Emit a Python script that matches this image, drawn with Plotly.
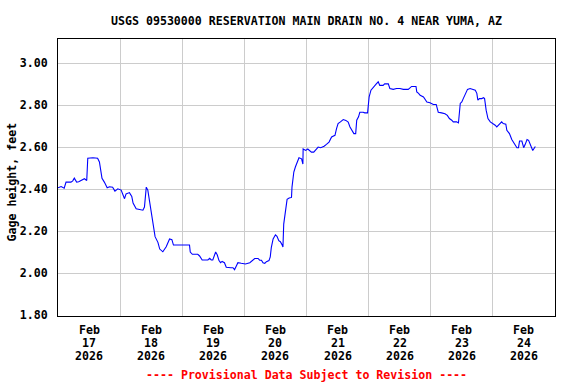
import pandas as pd
import plotly.graph_objects as go

# ---- data (hours after 2026-02-17 00:00, gage height in feet) ----
start_time = "2026-02-17 00:00"
hours = [
    0, 1.2, 2.4, 3.1, 5.0, 5.7, 6.3, 6.8, 7.2, 8.0, 8.9, 10.2, 11.1, 11.5, 13.5, 15.3,
    16.0, 16.4, 17.0, 17.9, 19.0, 19.9, 21.1, 22.0, 23.1, 24.4, 25.0, 25.7, 26.3, 27.6,
    28.5, 29.0, 30.2, 31.5, 32.8, 33.4, 33.7, 34.1, 34.7, 35.3, 36.2, 37.0, 37.5, 38.6,
    39.3, 40.5, 41.8, 43.1, 44.0, 44.6, 50.8, 51.1, 51.9, 54.0, 54.7, 55.7, 57.9, 58.6,
    59.2, 59.8, 60.2, 60.9, 61.5, 62.2, 62.8, 63.4, 64.3, 65.0, 66.8, 67.6, 68.2, 68.9,
    69.5, 70.8, 72.4, 74.1, 74.7, 75.4, 76.0, 77.3, 77.9, 78.6, 79.2, 79.9, 80.5, 81.5,
    82.0, 82.4, 83.1, 84.0, 84.6, 85.3, 85.9, 86.6, 86.9, 87.2, 87.6, 88.0, 88.5, 89.3,
    90.2, 90.4, 91.1, 91.7, 92.5, 93.1, 94.1, 94.6, 94.7, 95.7, 96.5, 97.3, 97.9, 98.8,
    99.5, 100.5, 101.5, 102.8, 103.7, 104.7, 105.7, 107.0, 107.6, 108.2, 109.1, 110.2,
    111.2, 112.1, 112.8, 113.4, 114.3, 115.0, 115.4, 116.1, 116.6, 117.9, 118.5, 119.6,
    120.2, 120.9, 121.8, 122.8, 123.7, 124.3, 125.6, 126.2, 127.6, 128.2, 129.5, 130.8,
    132.1, 133.4, 135.3, 136.0, 136.6, 138.3, 138.6, 139.3, 139.9, 141.2, 141.8, 142.5,
    143.7, 145.0, 146.1, 146.9, 148.2, 149.5, 150.4, 151.2, 152.1, 152.7, 154.0, 154.7,
    155.4, 156.0, 156.6, 157.6, 158.2, 159.2, 160.5, 161.2, 161.8, 162.2, 162.8, 163.7,
    164.4, 164.8, 165.4, 166.1, 167.0, 168.2, 168.9, 169.5, 170.2, 170.8, 171.4, 172.0,
    173.0, 173.4, 174.4, 175.3, 176.2, 177.3, 177.9, 178.3, 179.2, 179.9, 180.5, 181.2,
    181.8, 182.5, 183.1, 183.4, 184.4,
]
gage_height = [
    2.407, 2.413, 2.405, 2.434, 2.434, 2.440, 2.453, 2.445, 2.434, 2.436, 2.442, 2.450,
    2.442, 2.548, 2.550, 2.548, 2.530, 2.497, 2.452, 2.434, 2.407, 2.412, 2.410, 2.391,
    2.402, 2.396, 2.375, 2.355, 2.378, 2.384, 2.366, 2.334, 2.307, 2.302, 2.300, 2.315,
    2.355, 2.410, 2.396, 2.350, 2.267, 2.203, 2.174, 2.147, 2.115, 2.102, 2.126, 2.163,
    2.160, 2.134, 2.134, 2.101, 2.090, 2.090, 2.082, 2.063, 2.063, 2.071, 2.063, 2.063,
    2.074, 2.101, 2.088, 2.060, 2.050, 2.056, 2.050, 2.028, 2.026, 2.026, 2.017, 2.036,
    2.050, 2.047, 2.044, 2.050, 2.056, 2.062, 2.070, 2.070, 2.062, 2.062, 2.050, 2.047,
    2.055, 2.060, 2.078, 2.122, 2.163, 2.183, 2.176, 2.155, 2.150, 2.134, 2.125, 2.234,
    2.274, 2.320, 2.352, 2.358, 2.361, 2.410, 2.482, 2.506, 2.538, 2.550, 2.545, 2.520,
    2.592, 2.585, 2.592, 2.585, 2.577, 2.577, 2.587, 2.601, 2.598, 2.605, 2.614, 2.625,
    2.649, 2.657, 2.689, 2.713, 2.721, 2.732, 2.728, 2.720, 2.697, 2.681, 2.665, 2.665,
    2.729, 2.745, 2.767, 2.767, 2.764, 2.764, 2.840, 2.872, 2.888, 2.900, 2.912, 2.895,
    2.895, 2.902, 2.902, 2.880, 2.876, 2.880, 2.880, 2.876, 2.876, 2.882, 2.890, 2.890,
    2.864, 2.857, 2.848, 2.840, 2.828, 2.816, 2.812, 2.804, 2.804, 2.767, 2.764, 2.760,
    2.752, 2.737, 2.729, 2.721, 2.721, 2.716, 2.809, 2.816, 2.833, 2.857, 2.876, 2.880,
    2.876, 2.872, 2.857, 2.825, 2.832, 2.832, 2.836, 2.832, 2.777, 2.737, 2.721, 2.713,
    2.705, 2.697, 2.705, 2.713, 2.721, 2.713, 2.710, 2.681, 2.665, 2.637, 2.620, 2.598,
    2.598, 2.630, 2.630, 2.598, 2.614, 2.637, 2.633, 2.609, 2.592, 2.585, 2.604,
]
y_ticks = [1.80, 2.00, 2.20, 2.40, 2.60, 2.80, 3.00]
day_ticks = ["2026-02-17", "2026-02-18", "2026-02-19", "2026-02-20",
             "2026-02-21", "2026-02-22", "2026-02-23", "2026-02-24"]
x_range = ["2026-02-17 00:00", "2026-02-25 00:00"]
title_text = "USGS 09530000 RESERVATION MAIN DRAIN NO. 4 NEAR YUMA, AZ"
y_title = "Gage height, feet"
footer_text = "---- Provisional Data Subject to Revision ----"

times = pd.Timestamp(start_time) + pd.to_timedelta(hours, unit="h")

FONT = "DejaVu Sans Mono"
fsize = 11.6
PLOT_H = 384 - 39 - 68
PLOT_W = 576 - 58 - 21

fig = go.Figure()
fig.add_trace(go.Scatter(x=times, y=gage_height, mode="lines",
                         line=dict(color="#0000ff", width=1.1), showlegend=False,
                         hoverinfo="skip"))

fig.update_layout(
    width=576, height=384,
    margin=dict(l=58, r=21, t=39, b=68, autoexpand=False),
    paper_bgcolor="white", plot_bgcolor="white",
    font=dict(family=FONT, size=fsize, color="black", weight=700),
    title=dict(text=title_text, x=0.5, xref="paper", y=1 - 21 / 384, yref="container",
               yanchor="middle", xanchor="center", automargin=False,
               font=dict(family=FONT, size=fsize, color="black", weight=700)),
    xaxis=dict(
        range=x_range, type="date",
        tickvals=day_ticks, showticklabels=False,
        showgrid=True, gridcolor="#cccccc", gridwidth=1,
        showline=True, linecolor="black", linewidth=1, mirror=True,
        ticks="", zeroline=False, automargin=False,
    ),
    yaxis=dict(
        range=[1.796, 3.116], tickvals=y_ticks, tickformat=".2f",
        showgrid=True, gridcolor="#cccccc", gridwidth=1,
        showline=True, linecolor="black", linewidth=1, mirror=True,
        ticks="", ticklabelstandoff=7, zeroline=False, automargin=False,
        tickfont=dict(family=FONT, size=fsize, color="black", weight=700),
    ),
)

# three-line date labels centred on each day
for d in day_ticks:
    ts = pd.Timestamp(d)
    mid = ts + pd.Timedelta(hours=12)
    lines = [ts.strftime("%b"), ts.strftime("%d"), ts.strftime("%Y")]
    for i, txt in enumerate(lines):
        fig.add_annotation(text=txt, x=mid, xref="x", y=-(14 + 13 * i) / PLOT_H, yref="paper",
                           xanchor="center", yanchor="middle", showarrow=False,
                           font=dict(family=FONT, size=fsize, color="black", weight=700))

fig.add_annotation(text=y_title, textangle=-90, xref="paper", yref="paper",
                   x=-47 / PLOT_W, y=1 - (182.5 - 39) / PLOT_H, xanchor="center", yanchor="middle",
                   showarrow=False,
                   font=dict(family=FONT, size=fsize, color="black", weight=700))
fig.add_annotation(text=footer_text, xref="paper", yref="paper",
                   x=0.5, y=-(375 - 316) / PLOT_H, xanchor="center", yanchor="middle",
                   showarrow=False,
                   font=dict(family=FONT, size=fsize, color="#ff0000", weight=700))

# remove the browser's default 8px page margin so the figure sits at (0, 0)
fig.write_html("out.html", config={"displayModeBar": False},
               post_script="document.body.style.margin='0px';document.body.style.overflow='hidden';")
